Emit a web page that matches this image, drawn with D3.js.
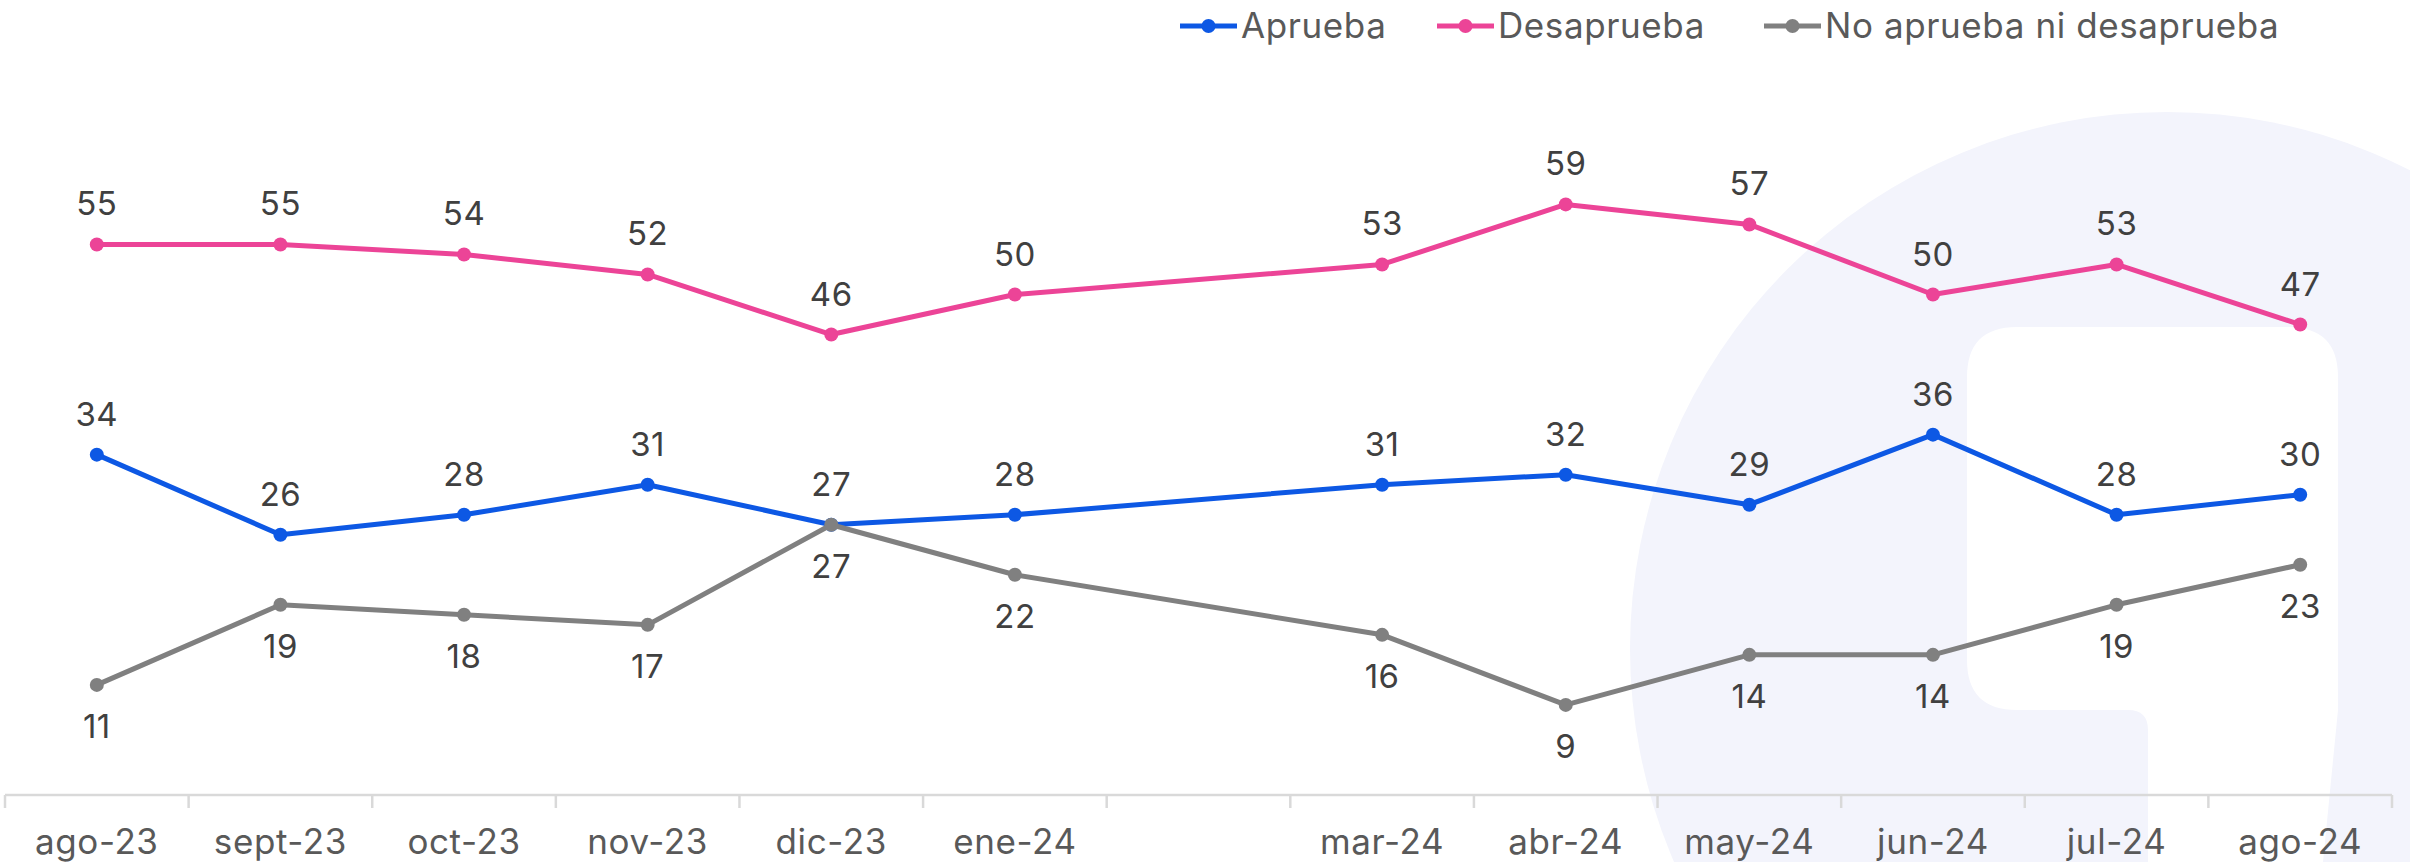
<!DOCTYPE html>
<html>
<head>
<meta charset="utf-8">
<script src="https://cdn.jsdelivr.net/npm/d3@7"></script>
<style>
  html, body { margin: 0; padding: 0; background: #fff; }
  svg { display: block; font-family: Inter, "Noto Sans", sans-serif; }
</style>
</head>
<body>
<svg id="chart" width="2410" height="862"></svg>
<script>
// months on the category axis (feb-24 has no survey, label left blank)
var months     = ["ago-23","sept-23","oct-23","nov-23","dic-23","ene-24","feb-24","mar-24","abr-24","may-24","jun-24","jul-24","ago-24"]
var tickLabels = ["ago-23","sept-23","oct-23","nov-23","dic-23","ene-24","","mar-24","abr-24","may-24","jun-24","jul-24","ago-24"]

var aprueba    = [34, 26, 28, 31, 27, 28, null, 31, 32, 29, 36, 28, 30]
var desaprueba = [55, 55, 54, 52, 46, 50, null, 53, 59, 57, 50, 53, 47]
var niNi       = [11, 19, 18, 17, 27, 22, null, 16,  9, 14, 14, 19, 23]

var seriesNames  = ["Aprueba", "Desaprueba", "No aprueba ni desaprueba"]
var seriesColors = ["#0d58e4", "#ec4497", "#808080"]

var series = [
  {name: seriesNames[0], values: aprueba,    color: seriesColors[0], below: false},
  {name: seriesNames[1], values: desaprueba, color: seriesColors[1], below: false},
  {name: seriesNames[2], values: niNi,       color: seriesColors[2], below: true}
]

var svg = d3.select("#chart")

var axisY = 795

var x = d3.scaleBand().domain(months).range([5, 2392]).paddingInner(0).paddingOuter(0)
var y = d3.scaleLinear().domain([0, 60]).range([axisY, axisY - 600.6])

function cx(d){ return x(d.month) + x.bandwidth() / 2 }

// watermark logo in the back
var wm = svg.append("g").attr("class", "watermark")
wm.append("circle")
  .attr("cx", 2167).attr("cy", 649).attr("r", 537)
  .attr("fill", "#f3f4fc")
wm.append("path")
  .attr("fill", "#ffffff")
  .attr("d", "M2017,327 H2288 Q2338,327 2338,377 V710 L2323,862 H2148 V730 Q2148,710 2128,710 H2017 Q1967,710 1967,660 V377 Q1967,327 2017,327 Z")

// x axis: line, ticks at band edges, labels at centres
var axis = svg.append("g").attr("class", "axis")
axis.append("line")
  .attr("x1", 5).attr("x2", 2392)
  .attr("y1", axisY).attr("y2", axisY)
  .attr("stroke", "#d9d9d9").attr("stroke-width", 2.5)

var edges = months.map(function(m){ return x(m) }).concat([x.range()[1]])
axis.selectAll(".tick")
  .data(edges)
  .enter().append("line")
    .attr("class", "tick")
    .attr("x1", function(d){ return d }).attr("x2", function(d){ return d })
    .attr("y1", axisY).attr("y2", axisY + 13)
    .attr("stroke", "#d9d9d9").attr("stroke-width", 2.5)

axis.selectAll(".tick-label")
  .data(months)
  .enter().append("text")
    .attr("class", "tick-label")
    .attr("x", function(m){ return x(m) + x.bandwidth() / 2 })
    .attr("y", 854)
    .attr("text-anchor", "middle")
    .attr("font-size", 35)
    .attr("letter-spacing", 0.6)
    .attr("fill", "#595959")
    .text(function(m, i){ return tickLabels[i] })

var line = d3.line()
  .x(cx)
  .y(function(d){ return y(d.value) })

series.forEach(function(s){
  var pts = s.values
    .map(function(v, i){ return {month: months[i], value: v} })
    .filter(function(d){ return d.value != null })

  var g = svg.append("g").attr("class", "series")

  g.append("path")
    .datum(pts)
    .attr("fill", "none")
    .attr("stroke", s.color)
    .attr("stroke-width", 5)
    .attr("stroke-linejoin", "round")
    .attr("d", line)

  g.selectAll("circle")
    .data(pts)
    .enter().append("circle")
      .attr("cx", cx)
      .attr("cy", function(d){ return y(d.value) })
      .attr("r", 7)
      .attr("fill", s.color)

  g.selectAll("text")
    .data(pts)
    .enter().append("text")
      .attr("x", cx)
      .attr("y", function(d){ return s.below ? y(d.value) + 53 : y(d.value) - 29 })
      .attr("text-anchor", "middle")
      .attr("font-size", 33)
      .attr("letter-spacing", 0.5)
      .attr("fill", "#404040")
      .text(function(d){ return d.value })
})

// legend
var legendX = [1180, 1437, 1764]
var legend = svg.append("g").attr("class", "legend")
series.forEach(function(s, i){
  var item = legend.append("g").attr("transform", "translate(" + legendX[i] + ",26)")
  item.append("line")
    .attr("x1", 0).attr("x2", 57)
    .attr("stroke", s.color).attr("stroke-width", 5)
  item.append("circle")
    .attr("cx", 28.5).attr("r", 7).attr("fill", s.color)
  item.append("text")
    .attr("x", 61).attr("y", 12)
    .attr("font-size", 35)
    .attr("letter-spacing", 0.6)
    .attr("fill", "#595959")
    .text(s.name)
})
</script>
</body>
</html>
